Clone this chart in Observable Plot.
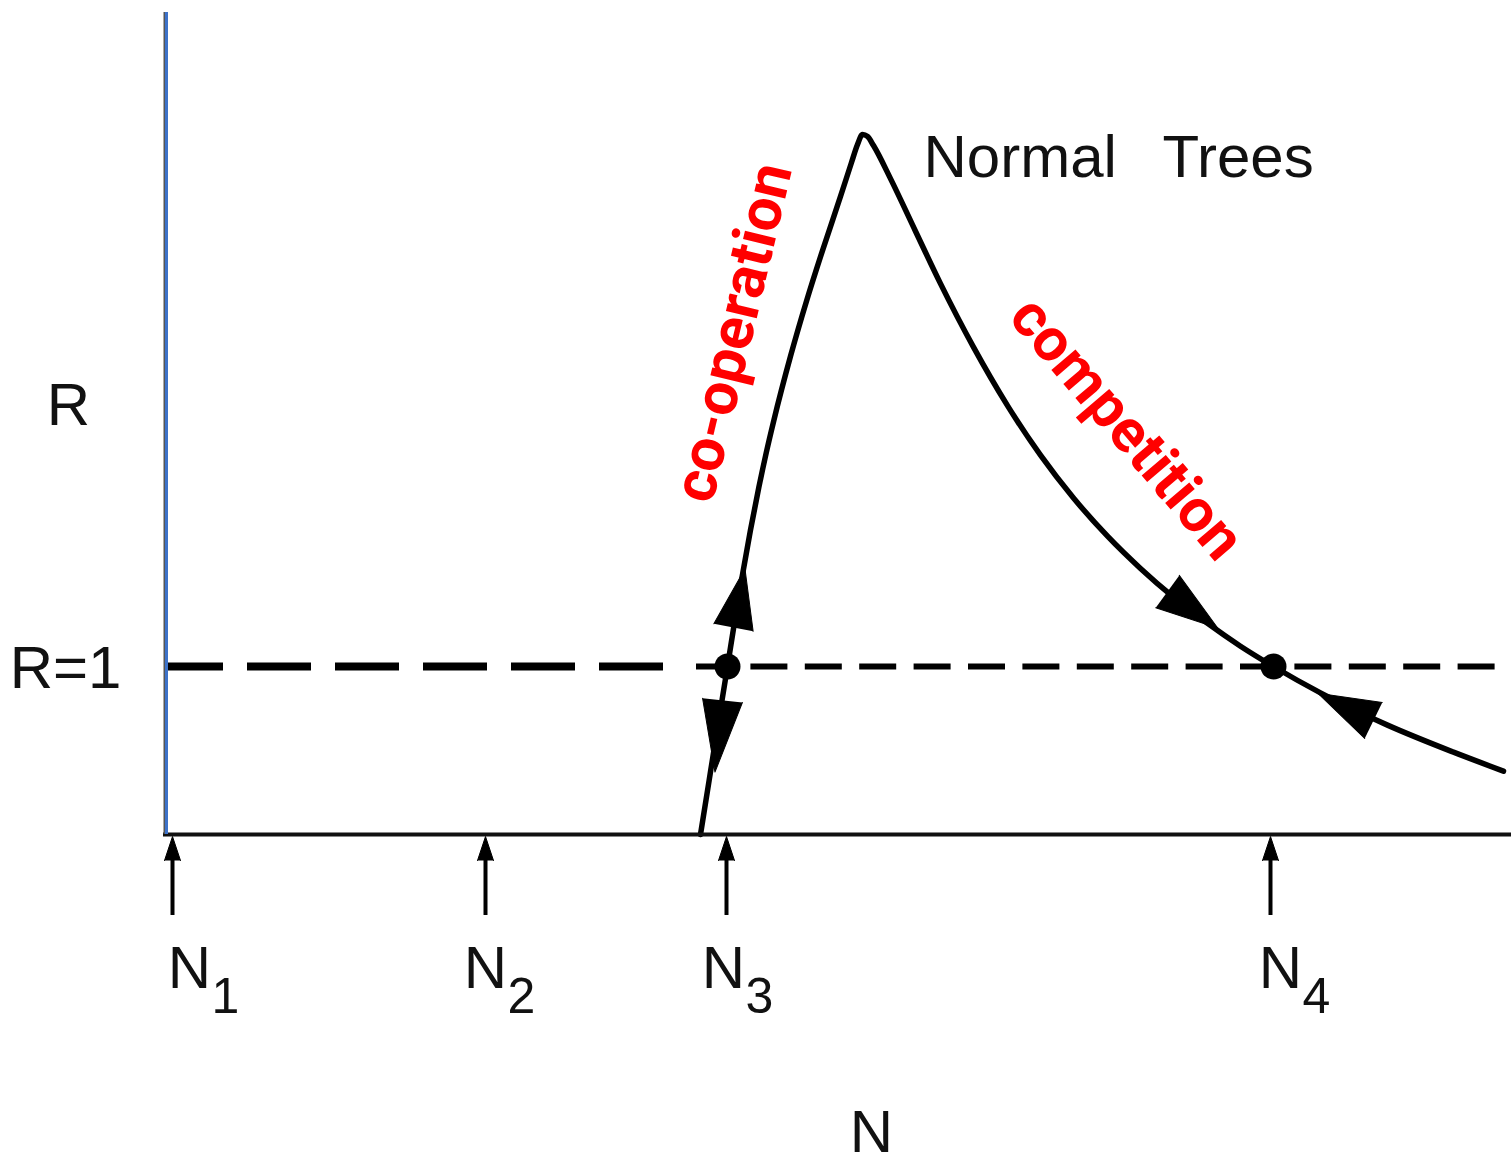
<!DOCTYPE html>
<html>
<head>
<meta charset="utf-8">
<script src="https://cdn.jsdelivr.net/npm/d3@7"></script>
<script src="https://cdn.jsdelivr.net/npm/@observablehq/plot@0.6"></script>
<style>
  html, body { margin: 0; padding: 0; background: #ffffff; }
  #chart svg { display: block; }
</style>
</head>
<body>
<div id="chart"></div>
<script>
// Curve "Normal Trees": N (population) vs R (reproduction ratio)
const curveN = [5.34, 5.426, 5.498, 5.61, 5.683, 5.755, 5.839, 5.923, 5.998, 6.073, 6.242, 6.402, 6.56, 6.74, 6.85, 6.91, 6.96, 7.01, 7.07,
                7.24, 7.49, 7.74, 8.07, 8.41, 8.74, 9.07, 9.41, 9.74, 10.07, 10.41, 10.74, 11.07, 11.54, 12.21, 12.87, 13.37];
const curveR = [0.000, 0.321, 0.589, 1.000, 1.274, 1.530, 1.810, 2.065, 2.274, 2.464, 2.851, 3.179, 3.476, 3.798, 4.000, 4.107, 4.167, 4.155, 4.101,
                3.904, 3.591, 3.279, 2.901, 2.553, 2.258, 2.003, 1.776, 1.584, 1.413, 1.257, 1.121, 1.000, 0.843, 0.651, 0.490, 0.377];

// Equilibrium points on R = 1
const eqN = [5.61, 11.07];
const eqR = [1, 1];

// Direction arrowheads along the curve (base position, direction in degrees clockwise from up, length)
const arrowN = [5.67, 5.56, 10.01, 12.07];
const arrowR = [1.232, 0.798, 1.446, 0.679];
const arrowAngle = [11, 186, 126, 296];
const arrowLength = [60, 72, 62, 62];

// Marked population levels under the N axis
const tickN = [0.06, 3.19, 5.60, 11.04];
const tickLabelN = [0.23, 3.19, 5.57, 11.14];
const tickMain = ["N", "N", "N", "N"];
const tickSub = ["1", "2", "3", "4"];

// Dashed R = 1 reference
const thickDashN = [0, 4.97];
const thinDashN = [5.30, 13.45];
const refR = 1;

// Annotation texts
const axisTexts = ["R", "R=1", "N"];
const axisTextN = [-0.98, -1.01, 7.05];
const axisTextR = [2.44, 0.87, -1.89];
const seriesTexts = ["Normal", "Trees"];
const seriesTextN = [7.57, 9.96];
const seriesTextR = [3.911, 3.911];
const redTexts = ["co-operation", "competition"];
const redTextN = [5.67, 9.60];
const redTextR = [2.988, 2.417];
const redTextAngle = [-76.6, 49.5];

const curve = curveN.map((n, i) => ({N: n, R: curveR[i]}));
const eq = eqN.map((n, i) => ({N: n, R: eqR[i]}));
const arrows = arrowN.map((n, i) => ({N: n, R: arrowR[i], angle: arrowAngle[i], len: arrowLength[i]}));
const ticks = tickN.map((n, i) => ({N: n, LN: tickLabelN[i], main: tickMain[i], sub: tickSub[i]}));
const axisLab = axisTexts.map((t, i) => ({t, N: axisTextN[i], R: axisTextR[i]}));
const seriesLab = seriesTexts.map((t, i) => ({t, N: seriesTextN[i], R: seriesTextR[i]}));
const redLab = redTexts.map((t, i) => ({t, N: redTextN[i], R: redTextR[i], a: redTextAngle[i]}));

const font = "Liberation Sans, Arial, sans-serif";

const chart = Plot.plot({
  width: 1511,
  height: 1163,
  marginLeft: 166,
  marginRight: 0,
  marginTop: 12,
  marginBottom: 329,
  x: {domain: [0, 13.45], axis: null},
  y: {domain: [0, 4.893], axis: null},
  length: {type: "identity"},
  style: {background: "#ffffff", fontFamily: font, overflow: "visible"},
  marks: [
    // dashed R = 1 line
    Plot.ruleY([refR], {x1: thickDashN[0], x2: thickDashN[1], stroke: "#000", strokeWidth: 8, strokeDasharray: "64,24", strokeDashoffset: 7}),
    Plot.ruleY([refR], {x1: thinDashN[0], x2: thinDashN[1], stroke: "#000", strokeWidth: 6, strokeDasharray: "37,17.4"}),
    // curve
    Plot.line(curve, {x: "N", y: "R", curve: "monotone-x", stroke: "#000", strokeWidth: 5.5, strokeLinecap: "round", strokeLinejoin: "round"}),
    // arrowheads on curve
    Plot.vector(arrows, {x: "N", y: "R", rotate: "angle", length: "len", r: 20, shape: "spike", anchor: "start",
      fill: "#000", fillOpacity: 1, stroke: "#000", strokeWidth: 1}),
    // equilibrium dots
    Plot.dot(eq, {x: "N", y: "R", r: 13, fill: "#000", stroke: "none"}),
    // axes
    Plot.ruleY([0], {x1: -0.03, x2: 13.45, stroke: "#111", strokeWidth: 4}),
    Plot.ruleX([0], {y1: 0, y2: 4.893, stroke: "#555", strokeWidth: 2, dx: -2}),
    Plot.ruleX([0], {y1: 0, y2: 4.893, stroke: "#3d72c9", strokeWidth: 3}),
    // tick arrows below N axis
    Plot.ruleX(ticks, {x: "N", y1: -0.482, y2: -0.14, stroke: "#000", strokeWidth: 4}),
    Plot.vector(ticks, {x: "N", y: -0.155, length: 24, r: 8, shape: "spike", anchor: "start",
      fill: "#000", fillOpacity: 1, stroke: "#000", strokeWidth: 1}),
    Plot.text(ticks, {x: "LN", y: -0.911, text: "main", fontSize: 60, textAnchor: "middle", lineAnchor: "bottom", fill: "#111"}),
    Plot.text(ticks, {x: "LN", y: -1.06, text: "sub", fontSize: 50, textAnchor: "start", dx: 22, lineAnchor: "bottom", fill: "#111"}),
    // axis labels
    Plot.text(axisLab, {x: "N", y: "R", text: "t", fontSize: 60, textAnchor: "middle", lineAnchor: "bottom", fill: "#111"}),
    // series label
    Plot.text(seriesLab, {x: "N", y: "R", text: "t", fontSize: 60, textAnchor: "start", lineAnchor: "bottom", fill: "#111"}),
    // red annotations
    Plot.text(redLab, {x: "N", y: "R", text: "t", rotate: "a", fontSize: 60, fontWeight: "bold", fill: "#ff0000",
      fontFamily: "Roboto, Liberation Sans, sans-serif", textAnchor: "middle", lineAnchor: "middle"})
  ]
});
document.getElementById("chart").appendChild(chart);
</script>
</body>
</html>
